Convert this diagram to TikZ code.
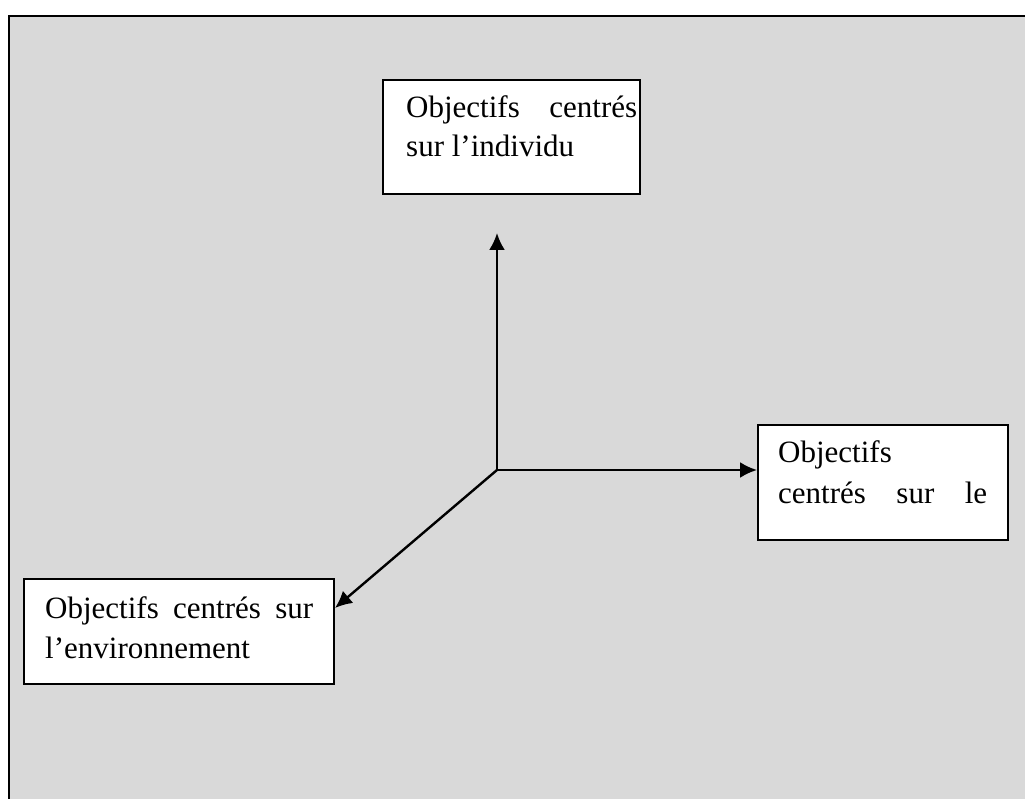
\documentclass[tikz,border=0pt]{standalone}
\usepackage{fontspec}
\setmainfont{Liberation Serif}
\usetikzlibrary{arrows.meta}
\definecolor{panel}{HTML}{D9D9D9}
\tikzset{
  box/.style={draw=black, fill=white, line width=2.4pt, inner sep=0pt, rectangle},
  txt/.style={inner sep=0pt, font=\fontsize{31}{40}\selectfont},
  conn/.style={line width=2.4pt, -{Latex[length=17pt,width=16pt]}}
}
\begin{document}
\begin{tikzpicture}[x=1pt,y=-1pt]
\useasboundingbox (0,0) rectangle (1025,799);
\fill[panel] (8,15) rectangle (1025,799);
\draw[line width=2.6pt] (9,799) -- (9,16) -- (1025,16);
% boxes
\node[box, minimum width=257pt, minimum height=114pt, anchor=north west] (ind) at (382,79) {};
\node[box, minimum width=250pt, minimum height=115pt, anchor=north west] (grp) at (757,424) {};
\node[box, minimum width=310pt, minimum height=105pt, anchor=north west] (env) at (23,578) {};
% texts
\node[txt, anchor=base west] (ind1) at (406,118) {\makebox[231pt][s]{Objectifs centrés}};
\node[txt, anchor=base west] (ind2) at (406,157) {sur l’individu};
\node[txt, anchor=base west] (grp1) at (778,462) {Objectifs};
\node[txt, anchor=base west] (grp2) at (778,503) {\makebox[209pt][s]{centrés sur le}};
\node[txt, anchor=base west] (env1) at (45,618) {\makebox[268pt][s]{Objectifs centrés sur}};
\node[txt, anchor=base west] (env2) at (45,658) {l’environnement};
% connectors
\coordinate (c) at (497,470);
\coordinate (up) at (497,233);
\coordinate (dl) at (335,608);
\draw[conn] (c) -- (up);
\draw[conn] (c) -- (c -| grp.west);
\draw[conn] (c) -- (dl);
\end{tikzpicture}
\end{document}
